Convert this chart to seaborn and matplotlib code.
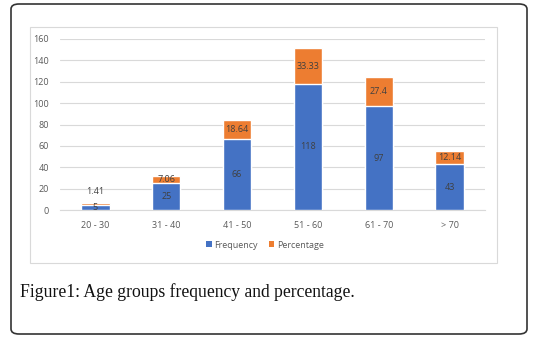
import matplotlib
matplotlib.use("Agg")
import matplotlib.pyplot as plt
import seaborn as sns
import pandas as pd
from matplotlib.patches import FancyBboxPatch, Rectangle, Patch

categories = ["20 - 30", "31 - 40", "41 - 50", "51 - 60", "61 - 70", "> 70"]
frequency = [5, 25, 66, 118, 97, 43]
percentage = [1.41, 7.06, 18.64, 33.33, 27.4, 12.14]
pct_labels = ["1.41", "7.06", "18.64", "33.33", "27.4", "12.14"]
yticks = [0, 20, 40, 60, 80, 100, 120, 140, 160]

BLUE = "#4472C4"
ORANGE = "#ED7D31"
GRID = "#D9D9D9"
TXT = "#595959"

sns.set_theme(style="white")
plt.rcParams["font.family"] = ["Open Sans", "DejaVu Sans"]

W, H = 534, 340
fig = plt.figure(figsize=(W / 100, H / 100), dpi=100)

# outer rounded frame
fig.patches.append(FancyBboxPatch((11 / W, 1 - 334 / H), (527 - 11) / W, (334 - 4) / H,
                                  boxstyle="round,pad=0,rounding_size=0.015",
                                  transform=fig.transFigure, fill=False,
                                  edgecolor="#333333", linewidth=1.2))
# inner chart frame
fig.patches.append(Rectangle((30 / W, 1 - 263 / H), (497 - 30) / W, (263 - 27) / H,
                             transform=fig.transFigure, fill=False,
                             edgecolor=GRID, linewidth=0.8))

ax = fig.add_axes([60 / W, 1 - 210 / H, (485 - 60) / W, (210 - 39) / H])

df = pd.DataFrame({"cat": categories, "freq": frequency, "pct": percentage})
df["total"] = df["freq"] + df["pct"]

sns.barplot(data=df, x="cat", y="total", color=ORANGE, saturation=1, width=0.4, ax=ax, zorder=3)
sns.barplot(data=df, x="cat", y="freq", color=BLUE, saturation=1, width=0.4, ax=ax, zorder=3)

ax.set_ylim(0, 160)
ax.set_xlim(-0.5, 5.5)
ax.set_yticks(yticks)
ax.set_yticklabels([str(v) for v in yticks])
ax.set_xlabel("")
ax.set_ylabel("")
ax.grid(axis="y", color=GRID, linewidth=0.8, zorder=0)
ax.grid(axis="x", visible=False)
for s in ["top", "right", "left"]:
    ax.spines[s].set_visible(False)
ax.spines["bottom"].set_color(GRID)
ax.spines["bottom"].set_linewidth(0.8)
ax.tick_params(axis="both", length=0, labelsize=6.5, colors=TXT)
ax.tick_params(axis="y", pad=8)
ax.tick_params(axis="x", pad=8)
ax.set_facecolor("none")

lab_kw = dict(ha="center", va="center", fontsize=6.5, color="#404040", zorder=5)
for i, (f, p, pl) in enumerate(zip(frequency, percentage, pct_labels)):
    ax.text(i, f / 2, str(f), **lab_kw)
    if p < 3:
        ax.text(i, f + p + 11, pl, **lab_kw)
    else:
        ax.text(i, f + p / 2, pl, **lab_kw)

handles = [Patch(facecolor=BLUE, edgecolor="none"), Patch(facecolor=ORANGE, edgecolor="none")]
fig.legend(handles, ["Frequency", "Percentage"], loc="center", bbox_to_anchor=(265 / W, 1 - 245 / H),
           ncol=2, frameon=False, fontsize=6.5, handlelength=0.6, handleheight=0.6,
           handletextpad=0.3, columnspacing=1.2, labelcolor=TXT)

fig.text(20 / W, 1 - 292 / H, "Figure1: Age groups frequency and percentage.",
         family=["Liberation Serif", "DejaVu Serif"], fontsize=12.7, color="#111111",
         ha="left", va="center")

fig.savefig("out.png", dpi=100, facecolor="white")
